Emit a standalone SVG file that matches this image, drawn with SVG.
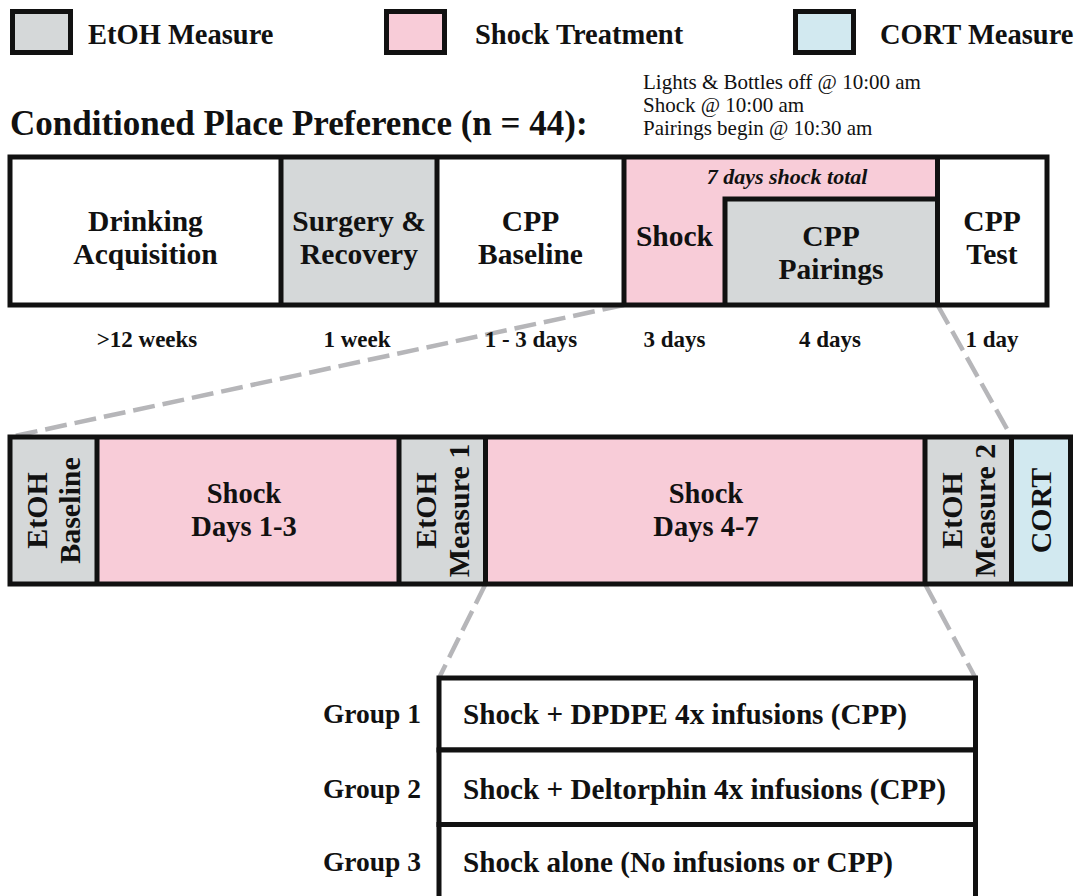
<svg xmlns="http://www.w3.org/2000/svg" width="1079" height="896" viewBox="0 0 1079 896">
<style>
.t{font-family:"Liberation Serif","Times New Roman",serif;font-weight:bold;fill:#111}
.n{font-family:"Liberation Serif","Times New Roman",serif;font-weight:normal;fill:#111}
.box{stroke:#111;stroke-width:5}
.ln{stroke:#111;stroke-width:5;fill:none}
.g{fill:#d5d8d9}
.p{fill:#f8ccd8}
.b{fill:#d2e9f0}
.w{fill:#fff}
.dash{stroke:#b6b6b9;stroke-width:4.5;stroke-dasharray:22 8;fill:none}
</style>
<rect width="1079" height="896" fill="#fff"/>

<g id="legend">
  <rect class="box g" x="12.5" y="11.5" width="58" height="41"/>
  <text class="t" x="88" y="44" font-size="28.5">EtOH Measure</text>
  <rect class="box p" x="386.5" y="11.5" width="58" height="41"/>
  <text class="t" x="475" y="44" font-size="28.5">Shock Treatment</text>
  <rect class="box b" x="795.5" y="11.5" width="58" height="41"/>
  <text class="t" x="880" y="44" font-size="28.5">CORT Measure</text>
</g>

<g id="title">
  <text class="t" x="10" y="135" font-size="35">Conditioned Place Preference (n = 44):</text>
</g>

<g id="notes">
  <text class="n" x="643" y="89" font-size="21">Lights &amp; Bottles off @ 10:00 am</text>
  <text class="n" x="643" y="112" font-size="21">Shock @ 10:00 am</text>
  <text class="n" x="643" y="135" font-size="21">Pairings begin @ 10:30 am</text>
</g>

<g id="connectors">
  <line class="dash" x1="624" y1="305" x2="10" y2="437"/>
  <line class="dash" x1="937.5" y1="305" x2="1011.5" y2="437"/>
  <line class="dash" x1="485.5" y1="584" x2="439" y2="678"/>
  <line class="dash" x1="925" y1="584" x2="975.5" y2="678"/>
</g>

<g id="top-bar">
  <rect class="w" x="10" y="157" width="1037" height="148"/>
  <g id="drinking">
    <text class="t" x="145.5" y="231" font-size="29.5" text-anchor="middle">Drinking</text>
    <text class="t" x="145.5" y="264" font-size="29.5" text-anchor="middle">Acquisition</text>
  </g>
  <g id="surgery">
    <rect class="g" x="281" y="157" width="156" height="148"/>
    <text class="t" x="359" y="231" font-size="29.5" text-anchor="middle">Surgery &amp;</text>
    <text class="t" x="359" y="264" font-size="29.5" text-anchor="middle">Recovery</text>
  </g>
  <g id="cpp-baseline">
    <text class="t" x="530.5" y="231" font-size="29.5" text-anchor="middle">CPP</text>
    <text class="t" x="530.5" y="264" font-size="29.5" text-anchor="middle">Baseline</text>
  </g>
  <g id="shock">
    <path class="p" d="M624 157 H937.5 V199 H725 V305 H624 Z"/>
    <text class="t" x="674.5" y="246" font-size="29.5" text-anchor="middle">Shock</text>
    <text class="t" x="787" y="184" font-size="22" font-style="italic" text-anchor="middle">7 days shock total</text>
  </g>
  <g id="cpp-pairings">
    <rect class="g" x="725" y="199" width="212.5" height="106"/>
    <path class="ln" d="M725 305 V199 H937.5"/>
    <text class="t" x="831" y="246" font-size="29.5" text-anchor="middle">CPP</text>
    <text class="t" x="831" y="279" font-size="29.5" text-anchor="middle">Pairings</text>
  </g>
  <g id="cpp-test">
    <text class="t" x="992" y="231" font-size="29.5" text-anchor="middle">CPP</text>
    <text class="t" x="992" y="264" font-size="29.5" text-anchor="middle">Test</text>
  </g>
  <line class="ln" x1="281" y1="157" x2="281" y2="305"/>
  <line class="ln" x1="437" y1="157" x2="437" y2="305"/>
  <line class="ln" x1="624" y1="157" x2="624" y2="305"/>
  <line class="ln" x1="937.5" y1="157" x2="937.5" y2="305"/>
  <rect class="box" fill="none" x="10" y="157" width="1037" height="148"/>
</g>

<g id="durations">
  <text class="t" x="147" y="347" font-size="23" text-anchor="middle">&gt;12 weeks</text>
  <text class="t" x="357" y="347" font-size="23" text-anchor="middle">1 week</text>
  <text class="t" x="531" y="347" font-size="23" text-anchor="middle">1 - 3 days</text>
  <text class="t" x="674.5" y="347" font-size="23" text-anchor="middle">3 days</text>
  <text class="t" x="830" y="347" font-size="23" text-anchor="middle">4 days</text>
  <text class="t" x="992" y="347" font-size="23" text-anchor="middle">1 day</text>
</g>

<g id="middle-bar">
  <g id="etoh-baseline">
    <rect class="g" x="10" y="437" width="87" height="147"/>
    <text class="t" font-size="30" text-anchor="middle" transform="translate(47 510.5) rotate(-90)">EtOH</text>
    <text class="t" font-size="30" text-anchor="middle" transform="translate(80 510.5) rotate(-90)">Baseline</text>
  </g>
  <g id="shock-1-3">
    <rect class="p" x="97" y="437" width="302" height="147"/>
    <text class="t" x="244" y="503" font-size="28.5" text-anchor="middle">Shock</text>
    <text class="t" x="244" y="536" font-size="28.5" text-anchor="middle">Days 1-3</text>
  </g>
  <g id="etoh-measure-1">
    <rect class="g" x="399" y="437" width="86.5" height="147"/>
    <text class="t" font-size="30" text-anchor="middle" transform="translate(436 510.5) rotate(-90)">EtOH</text>
    <text class="t" font-size="30" text-anchor="middle" transform="translate(469 510.5) rotate(-90)">Measure 1</text>
  </g>
  <g id="shock-4-7">
    <rect class="p" x="485.5" y="437" width="439.5" height="147"/>
    <text class="t" x="706" y="503" font-size="28.5" text-anchor="middle">Shock</text>
    <text class="t" x="706" y="536" font-size="28.5" text-anchor="middle">Days 4-7</text>
  </g>
  <g id="etoh-measure-2">
    <rect class="g" x="925" y="437" width="86.5" height="147"/>
    <text class="t" font-size="30" text-anchor="middle" transform="translate(962 510.5) rotate(-90)">EtOH</text>
    <text class="t" font-size="30" text-anchor="middle" transform="translate(995 510.5) rotate(-90)">Measure 2</text>
  </g>
  <g id="cort">
    <rect class="b" x="1011.5" y="437" width="59" height="147"/>
    <text class="t" font-size="30" text-anchor="middle" transform="translate(1051 510.5) rotate(-90)">CORT</text>
  </g>
  <line class="ln" x1="97" y1="437" x2="97" y2="584"/>
  <line class="ln" x1="399" y1="437" x2="399" y2="584"/>
  <line class="ln" x1="485.5" y1="437" x2="485.5" y2="584"/>
  <line class="ln" x1="925" y1="437" x2="925" y2="584"/>
  <line class="ln" x1="1011.5" y1="437" x2="1011.5" y2="584"/>
  <rect class="box" fill="none" x="10" y="437" width="1060.5" height="147"/>
</g>

<g id="groups">
  <g id="group-1">
    <rect class="box w" x="439" y="678" width="536.5" height="72"/>
    <text class="t" x="421" y="723" font-size="27.5" text-anchor="end">Group 1</text>
    <text class="t" x="463" y="724" font-size="29.2">Shock + DPDPE 4x infusions (CPP)</text>
  </g>
  <g id="group-2">
    <rect class="box w" x="439" y="750" width="536.5" height="74.5"/>
    <text class="t" x="421" y="798" font-size="27.5" text-anchor="end">Group 2</text>
    <text class="t" x="463" y="799" font-size="29.2">Shock + Deltorphin 4x infusions (CPP)</text>
  </g>
  <g id="group-3">
    <rect class="box w" x="439" y="824.5" width="536.5" height="74"/>
    <text class="t" x="421" y="871" font-size="27.5" text-anchor="end">Group 3</text>
    <text class="t" x="463" y="872" font-size="29.2">Shock alone (No infusions or CPP)</text>
  </g>
</g>
</svg>
